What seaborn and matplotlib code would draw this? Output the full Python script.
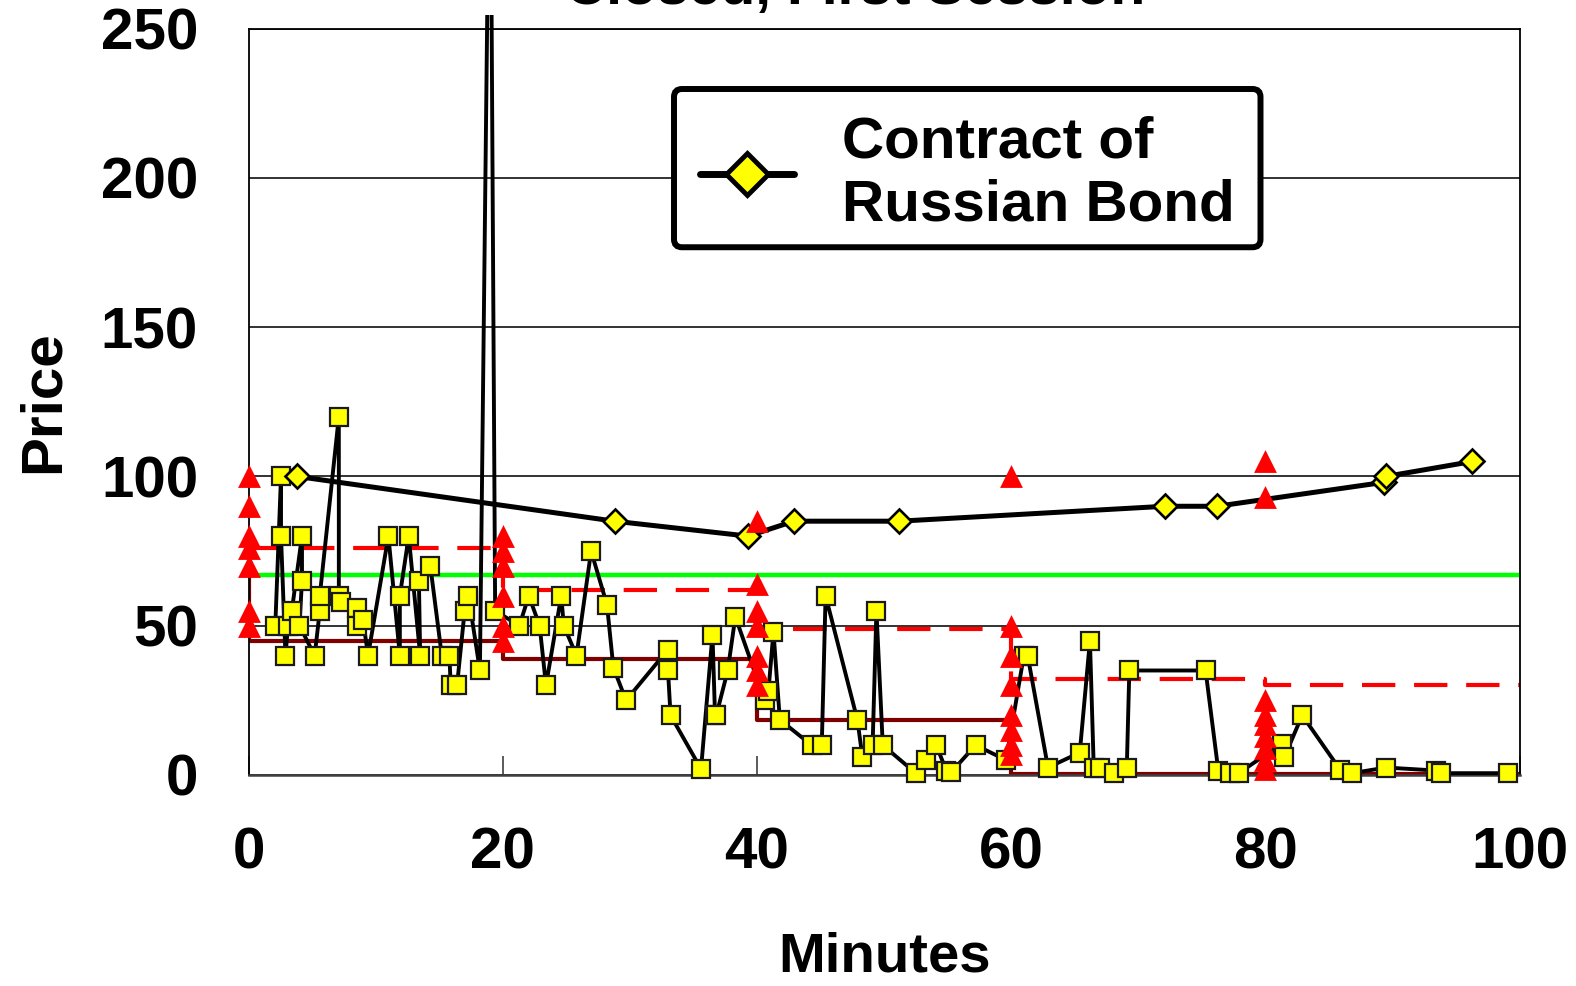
import matplotlib
matplotlib.use("Agg")
import matplotlib.pyplot as plt
import seaborn as sns
from matplotlib.lines import Line2D
from matplotlib.patches import FancyBboxPatch
from matplotlib.transforms import Bbox, TransformedBbox, IdentityTransform

# ---------------- data ----------------
# transaction prices (yellow squares, joined in time order)
sq_minutes = [2.1, 2.55, 2.55, 2.9, 3.1, 3.4, 4.2, 4.2, 4.0, 5.2, 5.6, 5.6, 7.1, 7.1, 7.3,
              8.5, 8.5, 9.0, 9.4, 11.0, 11.9, 11.9, 12.6, 13.5, 13.4, 14.3, 15.2, 15.8,
              15.9, 16.4, 17.0, 17.3, 18.2, 19.0, 19.4,
              21.3, 22.05, 22.9, 23.4, 24.6, 24.8, 25.8, 26.95, 28.2, 28.7, 29.7, 33.0,
              33.0, 33.2, 35.6, 36.5, 36.7, 36.8, 37.7, 38.3,
              40.6, 40.9, 41.3, 41.8, 44.3, 45.1, 45.4, 47.9, 48.3, 49.1, 49.4, 49.9,
              52.5, 53.3, 54.1, 54.9, 55.3, 57.2, 59.6,
              61.0, 61.3, 62.9, 65.4, 66.2, 66.5, 67.0, 68.1, 69.1, 69.3, 75.3, 76.3,
              77.2, 77.9, 81.3, 81.5, 82.9, 85.9, 86.8, 89.5, 93.4, 93.8, 99.1]
sq_price = [50, 100, 80, 40, 50, 55, 80, 65, 50, 40, 55, 60, 120, 60, 58,
            56, 50, 52, 40, 80, 40, 60, 80, 40, 65, 70, 40, 40,
            30, 30, 55, 60, 35, 340, 55,
            50, 60, 50, 30, 60, 50, 40, 75, 57, 36, 25, 42,
            35, 20, 2, 47, 20, 20, 35, 53,
            25, 28, 48, 18.5, 10, 10, 60, 18.5, 6, 10, 55, 10,
            0.6, 5, 10, 1.5, 1, 10, 5,
            40, 40, 2.5, 7.5, 45, 2.5, 2.5, 0.6, 2.5, 35, 35, 1.5,
            0.6, 0.6, 10.5, 6, 20, 1.7, 0.6, 2.5, 1.5, 0.6, 0.6]

# Contract of Russian Bond (diamonds)
bond_minutes = [3.8, 28.8, 39.3, 42.9, 51.2, 72.1, 76.2, 89.3, 89.5, 96.3]
bond_price = [100, 85, 80, 85, 85, 90, 90, 98, 100, 105]

# red triangles (offers at period starts)
tri_minutes = [0, 0, 0, 0, 0, 0, 0,
               20, 20, 20, 20, 20, 20,
               40, 40, 40, 40, 40, 40, 40,
               60, 60, 60, 60, 60, 60, 60, 60,
               80, 80, 80, 80, 80, 80, 80, 80, 80]
tri_price = [100, 90, 80, 76, 70, 55, 50,
             80, 75, 70, 60, 50, 45,
             85, 64, 55, 50, 40, 35, 30,
             100, 50, 40, 30, 20, 15, 10, 7,
             105, 93, 25, 20, 17, 13, 9, 5, 2]

# red dashed step line
red_minutes = [0, 20, 40, 60, 80, 100]
red_price = [76, 62, 49, 32, 30, 30]

# dark red step line
dark_minutes = [0, 0, 20, 40, 60, 100]
dark_price = [68, 45, 39, 18.5, 0.5, 0.5]

# green reference level
green_level = 67

x_ticks = [0, 20, 40, 60, 80, 100]
y_ticks = [0, 50, 100, 150, 200, 250]

# ---------------- style ----------------
sns.set_theme(style="white")
plt.rcParams["font.family"] = ["Liberation Sans", "DejaVu Sans"]
plt.rcParams["font.weight"] = "bold"
plt.rcParams["text.color"] = "black"

W, H = 1576, 986
fig = plt.figure(figsize=(W / 100, H / 100), dpi=100)
fig.patch.set_facecolor("white")
ax = fig.add_axes([248.6 / W, (H - 775) / H, (1519.5 - 248.6) / W, (775 - 28.5) / H])
ax.set_facecolor("white")

ax.axhline(green_level, color="#00ff00", lw=3.2, zorder=2)

sns.lineplot(x=red_minutes, y=red_price, ax=ax, color="red", lw=3.0,
             drawstyle="steps-post", estimator=None, sort=False, zorder=2.2)
red_line = ax.lines[-1]
red_line.set_linestyle((0, (8, 4.5)))

sns.lineplot(x=dark_minutes, y=dark_price, ax=ax, color="#800000", lw=3.0,
             drawstyle="steps-post", estimator=None, sort=False, zorder=2.4)

sns.lineplot(x=sq_minutes, y=sq_price, ax=ax, color="black", lw=2.8,
             marker="s", markersize=13.2, markerfacecolor="yellow",
             markeredgecolor="#1a1a1a", markeredgewidth=1.6,
             estimator=None, sort=False, zorder=3)
sq_line = ax.lines[-1]

sns.lineplot(x=bond_minutes, y=bond_price, ax=ax, color="black", lw=3.6,
             marker="D", markersize=12.5, markerfacecolor="yellow",
             markeredgecolor="black", markeredgewidth=1.9,
             estimator=None, sort=False, zorder=4)

sns.scatterplot(x=tri_minutes, y=tri_price, ax=ax, marker="^", s=270,
                color="red", linewidth=0, zorder=5, clip_on=False)

ax.set_xlim(0, 100)
ax.set_ylim(0, 250)
ax.set_xticks(x_ticks)
ax.set_yticks(y_ticks)
ax.set_xticklabels([str(v) for v in x_ticks])
ax.set_yticklabels([str(v) for v in y_ticks])

# the square series may poke slightly outside the plot area (spike)
sq_line.set_clip_path(None)
sq_line.set_clip_box(TransformedBbox(Bbox([[-0.01, -0.03], [1.01, 1.018]]), ax.transAxes))

ax.yaxis.grid(True, color="#222222", lw=1.3, zorder=0)
ax.xaxis.grid(False)
ax.set_axisbelow(True)
for side in ["left", "right", "top"]:
    ax.spines[side].set_visible(True)
    ax.spines[side].set_color("black")
    ax.spines[side].set_linewidth(1.3)
ax.spines["bottom"].set_visible(True)
ax.spines["bottom"].set_color("#404040")
ax.spines["bottom"].set_linewidth(1.8)

ax.tick_params(axis="y", length=0, pad=36.4, labelsize=42, labelcolor="black")
ax.tick_params(axis="x", direction="in", length=14, width=1.2, color="#404040",
               pad=37, labelsize=42, labelcolor="black", bottom=True)

ax.set_xlabel("Minutes", fontsize=40.5, fontweight="bold", color="black")
ax.xaxis.set_label_coords(0.5, -0.2095)
ax.set_ylabel("Price", fontsize=42, fontweight="bold", color="black")
ax.yaxis.set_label_coords(-0.1403, 0.5)

fig.text(855 / W, 1 - 4 / H, "Closed, First Session", ha="center", va="baseline",
         fontsize=41, fontweight="bold", color="black")

# legend
handle = Line2D([], [], color="black", lw=5, marker="D", markersize=21,
                markerfacecolor="yellow", markeredgecolor="black", markeredgewidth=3.5)
leg = ax.legend([handle], ["Contract of\nRussian Bond"], loc="upper left",
                bbox_to_anchor=(700 / W, 1 - 115 / H), bbox_transform=fig.transFigure,
                frameon=False, borderpad=0, borderaxespad=0, handlelength=1.61,
                handletextpad=0.82, prop={"size": 42, "weight": "bold"})
for t in leg.get_texts():
    t.set_linespacing(1.22)
    t.set_color("black")
leg.set_zorder(10)

fig.canvas.draw()
bb = leg.get_window_extent(fig.canvas.get_renderer())
padx, pad_top, pad_bottom = 26, 26, 15
frame = FancyBboxPatch((bb.x0 - padx, bb.y0 - pad_bottom), bb.width + 2 * padx,
                       bb.height + pad_top + pad_bottom,
                       boxstyle="round,pad=0,rounding_size=8", transform=IdentityTransform(),
                       facecolor="white", edgecolor="black", lw=4.3, zorder=9, clip_on=False)
ax.add_artist(frame)
frame.set_transform(IdentityTransform())
frame.set_clip_on(False)

fig.savefig("out.png", dpi=100, facecolor="white")
